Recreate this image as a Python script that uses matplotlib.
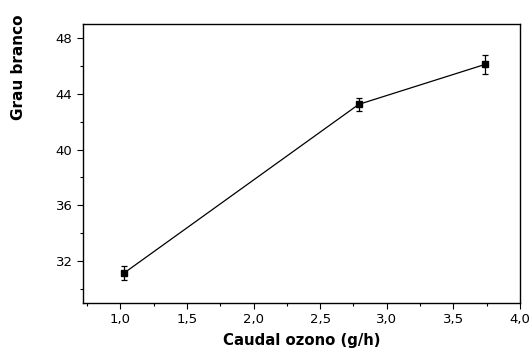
import numpy as np
import matplotlib.pyplot as plt
from matplotlib import rcParams
from matplotlib.ticker import MultipleLocator, FuncFormatter

rcParams["font.family"] = "DejaVu Sans"
rcParams["xtick.direction"] = "out"
rcParams["ytick.direction"] = "out"

caudal = [1.03, 2.79, 3.74]
grau = [31.16, 43.24, 46.11]
erro = [0.50, 0.48, 0.69]

fig = plt.figure(figsize=(5.32, 3.5), dpi=100)
ax = fig.add_axes([83/532, 1-303/350, 437/532, 279/350])

ax.errorbar(caudal, grau, yerr=erro, color="black", lw=0.9, marker="s", ms=4.5,
            capsize=2.5, elinewidth=0.9, capthick=0.9)

ax.set_xlim(0.72, 4.0)
ax.set_ylim(29, 49)
ax.xaxis.set_major_locator(MultipleLocator(0.5))
ax.xaxis.set_minor_locator(MultipleLocator(0.25))
ax.yaxis.set_major_locator(MultipleLocator(4))
ax.yaxis.set_minor_locator(MultipleLocator(2))
ax.xaxis.set_major_formatter(FuncFormatter(lambda v, p: f"{v:.1f}".replace(".", ",")))
ax.tick_params(which="major", length=4, width=0.8, labelsize=9.5)
ax.tick_params(which="minor", length=2.5, width=0.8)
for s in ax.spines.values():
    s.set_linewidth(1.0)

ax.set_xlabel("Caudal ozono (g/h)", fontsize=10.7, fontweight="bold", labelpad=5)
ax.set_ylabel("Grau branco", fontsize=11, fontweight="bold")
ax.yaxis.set_label_coords(-0.130, 0.846)

fig.savefig("out.png", dpi=100, facecolor="white")
